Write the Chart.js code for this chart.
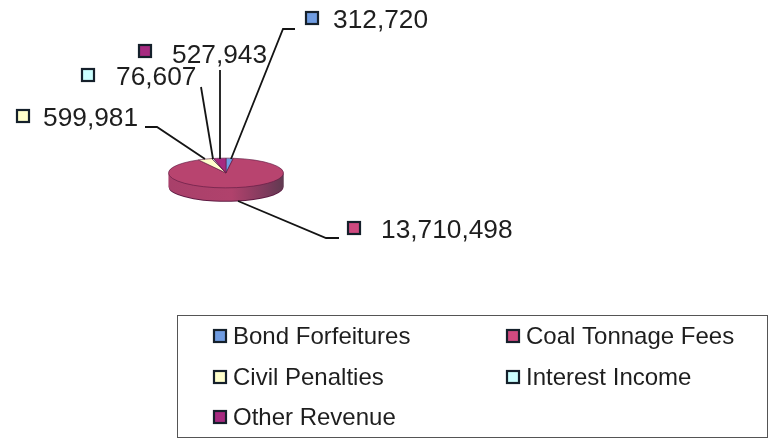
<!DOCTYPE html>
<html>
<head>
<meta charset="utf-8">
<style>
  html, body { margin: 0; padding: 0; background: #fff; }
  #wrap { width: 774px; height: 447px; }
  canvas { filter: blur(0.6px); }
</style>
<script src="https://cdn.jsdelivr.net/npm/chart.js@4"></script>
</head>
<body>
<div id="wrap"><canvas id="myChart" width="774" height="447"></canvas></div>
<script>
const categories = ["Bond Forfeitures", "Coal Tonnage Fees", "Civil Penalties", "Interest Income", "Other Revenue"];
const revenue = [312720, 13710498, 599981, 76607, 527943];
const colors = ["#6f9ce2", "#b8446f", "#ffffcc", "#ccffff", "#a62a80"];
const swatchColors = ["#6f9ce2", "#cf4a80", "#ffffcc", "#ccffff", "#a62a80"];

const textColor = "#1e1e1e";
const lineColor = "#141414";
const outline = "#5e1a42";

// squashed pie, centre and size as in the picture
const cx = 226, cy = 173, radius = 58, squash = 15 / 58, depth = 14;

// callouts: swatch x/y, text x/y (middle), leader polyline
const callouts = [
  { swatch: [306, 12], text: [333, 21], line: [[231, 159], [283, 29], [295, 29]] },
  { swatch: [348, 222], text: [381, 231], line: [[238, 201], [326, 238], [339, 238]] },
  { swatch: [17, 110], text: [43, 119], line: [[205, 159], [157, 127], [145, 127]] },
  { swatch: [82, 69], text: [116, 78], line: [[213, 159], [201, 87]] },
  { swatch: [139, 45], text: [172, 56], line: [[220, 159], [220, 70]] }
];

// legend box and entries
const legendBox = [177.5, 315.5, 590, 122];
const legendSpots = [[214, 336], [507, 336], [214, 377], [507, 377], [214, 417]];

function swatch(ctx, x, y, size, color) {
  ctx.fillStyle = color;
  ctx.strokeStyle = "#15202b";
  ctx.lineWidth = 2.2;
  ctx.fillRect(x, y, size, size);
  ctx.strokeRect(x, y, size, size);
}

const pie3d = {
  id: "pie3d",
  beforeDatasetsDraw(chart) {
    const ctx = chart.ctx;
    ctx.save();
    ctx.translate(cx, cy);
    ctx.scale(1, squash);
    ctx.translate(-cx, -cy);

    // side of the pie: same arcs, stacked downward
    const side = ctx.createLinearGradient(cx - radius, 0, cx + radius, 0);
    side.addColorStop(0, "#a8406a");
    side.addColorStop(0.55, "#b0426c");
    side.addColorStop(0.85, "#7d3a5c");
    side.addColorStop(1, "#5f3a50");
    const arcs = chart.getDatasetMeta(0).data;
    for (let d = depth; d >= 1; d--) {
      ctx.save();
      ctx.translate(0, d / squash);
      arcs.forEach(el => {
        const o = el.options, bg = o.backgroundColor, bw = o.borderWidth;
        o.backgroundColor = d === depth ? outline : side;
        o.borderWidth = 0;
        el.draw(ctx);
        o.backgroundColor = bg;
        o.borderWidth = bw;
      });
      ctx.restore();
    }
  },
  afterDatasetsDraw(chart) {
    chart.ctx.restore();
  },
  afterDraw(chart) {
    const ctx = chart.ctx;
    ctx.save();

    // leaders and value labels
    ctx.textBaseline = "middle";
    ctx.textAlign = "left";
    callouts.forEach((c, i) => {
      ctx.strokeStyle = lineColor;
      ctx.lineWidth = 1.8;
      ctx.beginPath();
      c.line.forEach((p, j) => j ? ctx.lineTo(p[0], p[1]) : ctx.moveTo(p[0], p[1]));
      ctx.stroke();
      swatch(ctx, c.swatch[0], c.swatch[1], 12, swatchColors[i]);
      ctx.fillStyle = textColor;
      ctx.font = "26.3px 'Liberation Sans', Arial, sans-serif";
      ctx.fillText(revenue[i].toLocaleString("en-US"), c.text[0], c.text[1]);
    });

    // legend
    ctx.strokeStyle = "#555";
    ctx.lineWidth = 1;
    ctx.strokeRect(...legendBox);
    categories.forEach((name, i) => {
      const [x, y] = legendSpots[i];
      swatch(ctx, x, y - 6, 12, swatchColors[i]);
      ctx.fillStyle = textColor;
      ctx.font = "24px 'Liberation Sans', Arial, sans-serif";
      ctx.fillText(name, x + 19, y + 1);
    });
    ctx.restore();
  }
};

new Chart(document.getElementById("myChart").getContext("2d"), {
  type: "pie",
  data: {
    labels: categories,
    datasets: [{
      data: revenue,
      backgroundColor: colors,
      borderColor: outline,
      borderWidth: 1,
      clip: false
    }]
  },
  options: {
    responsive: false,
    animation: false,
    events: [],
    layout: {
      padding: {
        left: cx - radius,
        right: 774 - cx - radius,
        top: cy - radius,
        bottom: 447 - cy - radius
      }
    },
    plugins: {
      legend: { display: false },
      tooltip: { enabled: false }
    }
  },
  plugins: [pie3d]
});
</script>
</body>
</html>
